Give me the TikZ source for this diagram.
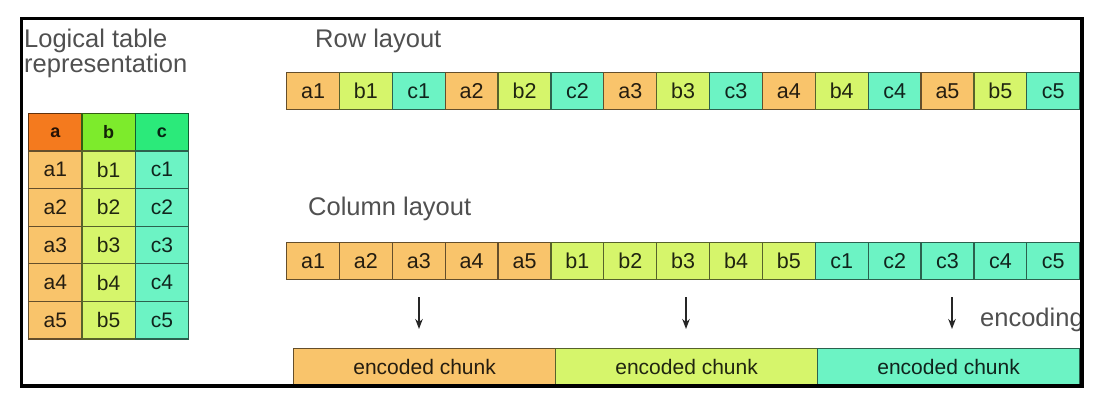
\documentclass[tikz,border=0pt]{standalone}
\usepackage{fontspec}
\setmainfont{Liberation Sans}
\usetikzlibrary{arrows.meta}
\definecolor{hA}{HTML}{F47A1E}
\definecolor{hB}{HTML}{7DEB2C}
\definecolor{hC}{HTML}{2BEA7A}
\definecolor{lA}{HTML}{F9C46B}
\definecolor{lB}{HTML}{D6F56B}
\definecolor{lC}{HTML}{6CF3C4}
\definecolor{titlegray}{HTML}{505050}
\pgfdeclarelayer{bg}
\pgfsetlayers{bg,main}
\tikzset{
  cellbox/.style={draw=#1!40!black, fill=#1, text=#1!15!black, line width=1.2pt,
    minimum width=52.87pt, minimum height=37pt, inner sep=0pt, anchor=north west,
    font=\fontsize{21.5}{24}\selectfont},
  tcellbox/.style={draw=#1!40!black, fill=#1, text=#1!15!black, line width=1.2pt,
    minimum width=53.33pt, minimum height=37.6pt, inner sep=0pt, anchor=north west,
    font=\fontsize{21}{24}\selectfont},
  chunkbox/.style={draw=#1!40!black, fill=#1, text=#1!15!black, line width=1.2pt,
    minimum width=262pt, minimum height=36pt, inner sep=0pt, anchor=north west,
    font=\fontsize{21}{24}\selectfont},
  titletext/.style={text=titlegray, inner sep=0pt, anchor=base west,
    font=\fontsize{25.5}{27}\selectfont},
  downarrow/.style={line width=1.7pt, -{Stealth[length=10pt,width=7.5pt]}, black!85},
  shadowfill/.style={black, opacity=0.14},
}
\begin{document}
\begin{tikzpicture}[x=1pt,y=-1pt]
\useasboundingbox (0,0) rectangle (1103,410);
\fill[white] (0,0) rectangle (1103,410);

% titles
\node[titletext] (tt1) at (24,47) {Logical table};
\node[titletext] (tt2) at (24,72) {representation};
\node[titletext] (trow) at (315,47) {Row layout};
\node[titletext] (tcol) at (308,215) {Column layout};

% table
\node[tcellbox=hA, font=\fontsize{18}{20}\selectfont\bfseries] (ta) at (28,113) {a};
\node[tcellbox=hB, font=\fontsize{18}{20}\selectfont\bfseries] (tb) at (81.33,113) {b};
\node[tcellbox=hC, font=\fontsize{18}{20}\selectfont\bfseries] (tc) at (134.67,113) {c};
\foreach \r in {1,...,5}{
  \foreach \c/\k [count=\i from 0] in {a/lA,b/lB,c/lC}{
    \node[tcellbox=\k] (t\c\r) at (28+\i*53.33, 150.4+\r*37.6-37.6) {\c\r};
  }
}

% row layout
\foreach \t/\k [count=\i from 0] in {a1/lA,b1/lB,c1/lC,a2/lA,b2/lB,c2/lC,a3/lA,b3/lB,c3/lC,a4/lA,b4/lB,c4/lC,a5/lA,b5/lB,c5/lC}{
  \node[cellbox=\k] (r\t) at (286+\i*52.87,72) {\t};
}

% column layout
\foreach \t/\k [count=\i from 0] in {a1/lA,a2/lA,a3/lA,a4/lA,a5/lA,b1/lB,b2/lB,b3/lB,b4/lB,b5/lB,c1/lC,c2/lC,c3/lC,c4/lC,c5/lC}{
  \node[cellbox=\k] (c\t) at (286+\i*52.87,242) {\t};
}

% encoded chunks
\node[chunkbox=lA] (ea) at (293,348) {encoded chunk};
\node[chunkbox=lB] (eb) at (555,348) {encoded chunk};
\node[chunkbox=lC] (ec) at (817,348) {encoded chunk};

% shadows
\begin{pgfonlayer}{bg}
  \foreach \p/\q in {ta/tc5, ra1/rc5, ca1/cc5, ea/ec}{
    \fill[shadowfill] ([shift={(1,2.5)}]\p.north west) rectangle ([shift={(1,2.5)}]\q.south east);
    \fill[shadowfill, opacity=0.07] ([shift={(2,5)}]\p.north west) rectangle ([shift={(2,5)}]\q.south east);
  }
\end{pgfonlayer}

% arrows
\coordinate (s1) at (419,297); \coordinate (e1) at (419,329);
\coordinate (s2) at (686,297); \coordinate (e2) at (686,329);
\coordinate (s3) at (952,297); \coordinate (e3) at (952,329);
\draw[downarrow] (s1) -- (e1);
\draw[downarrow] (s2) -- (e2);
\draw[downarrow] (s3) -- (e3);

\node[titletext] (enc) at (980,326) {encoding};

% frame
\draw[line width=3.5pt, black] (21.5,18.5) rectangle (1082,386);
\end{tikzpicture}
\end{document}
